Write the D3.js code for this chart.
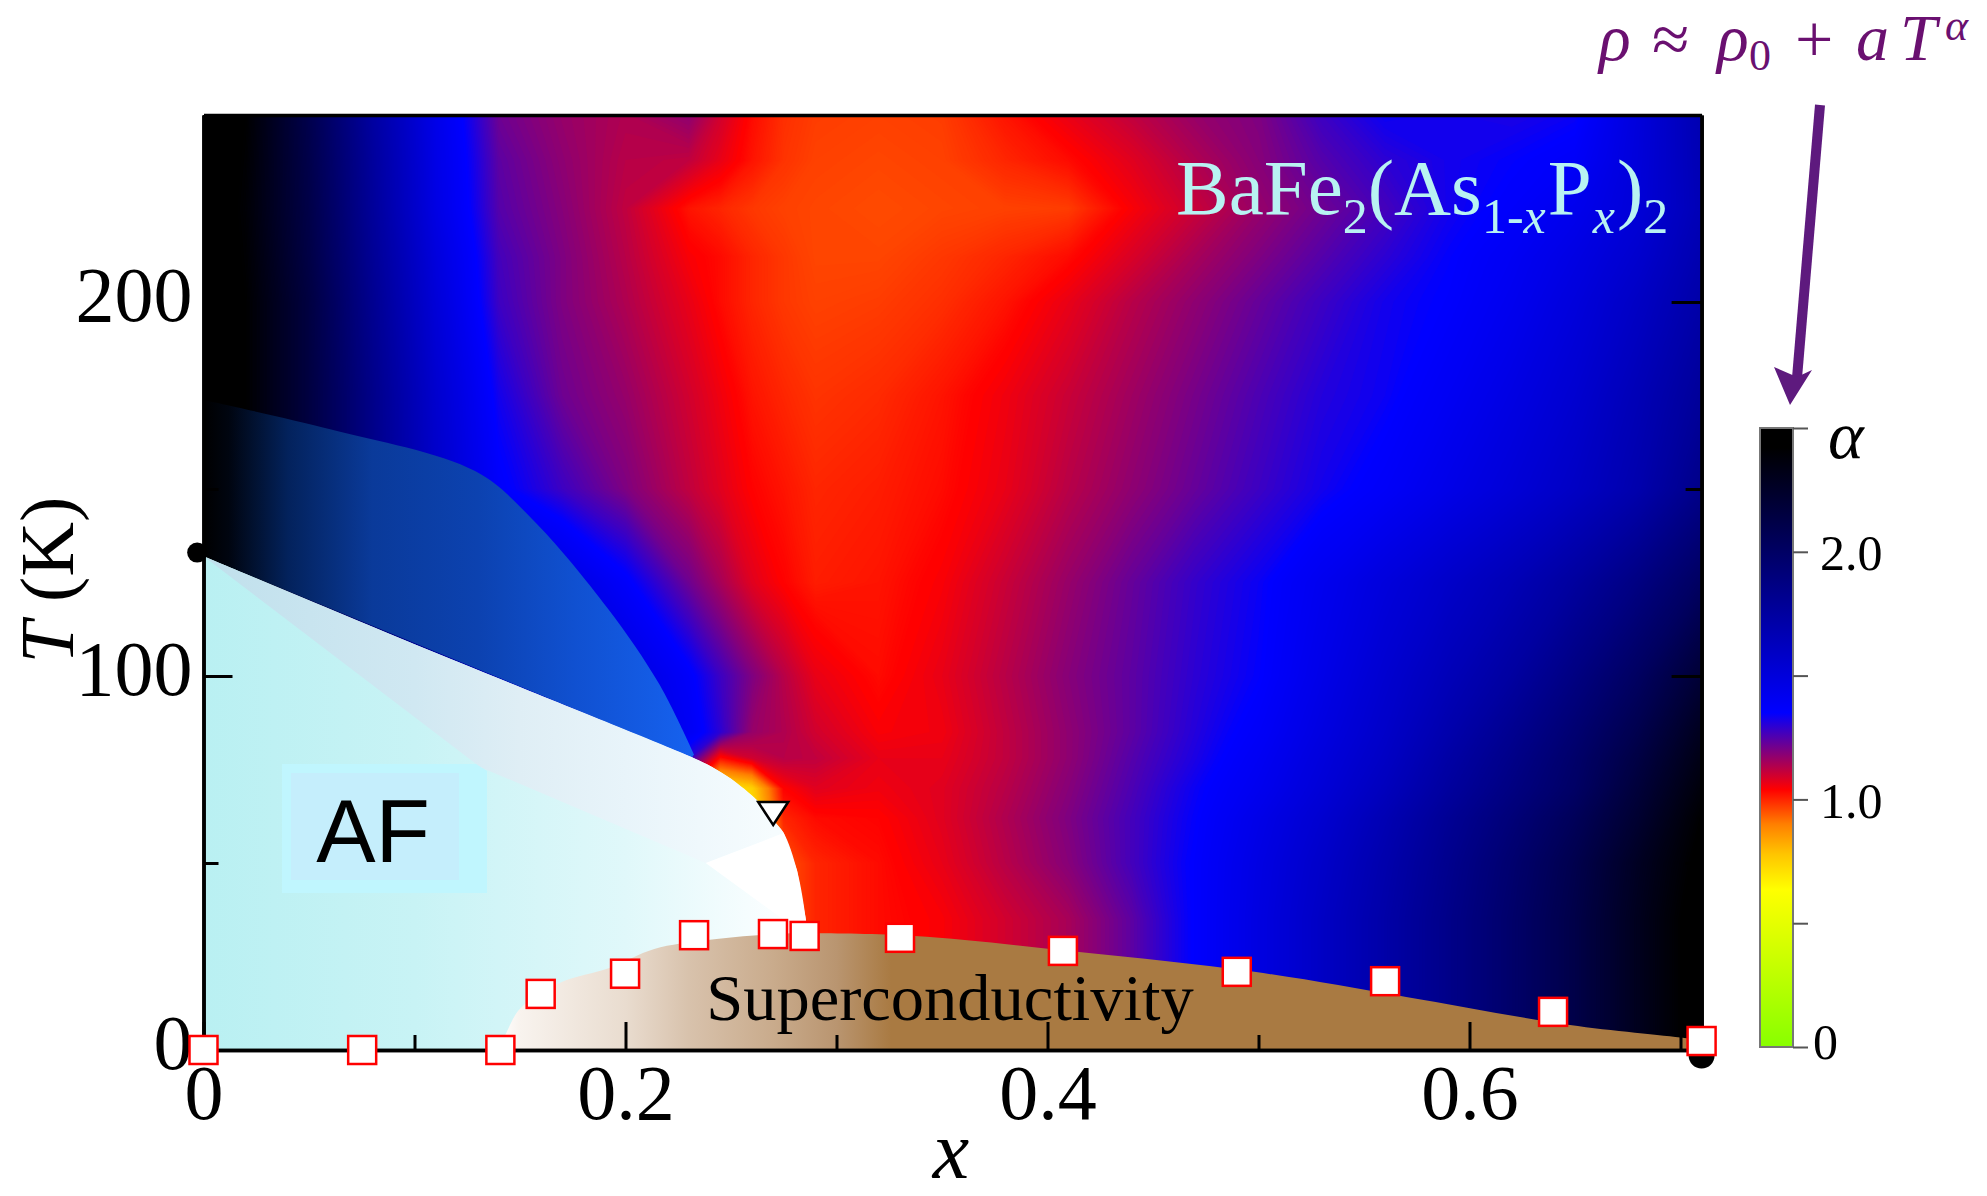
<!DOCTYPE html>
<html>
<head>
<meta charset="utf-8">
<script src="https://cdn.jsdelivr.net/npm/d3@7"></script>
<style>
	body { margin:0; background:#fff; }
	text { font-family:"Liberation Serif", serif; fill:#000; }
	.axis path { stroke:#000; stroke-width:3.5; fill:none; }
	.axis line { stroke:#000; stroke-width:3; }
	.axis text { font-size:78px; }
	.cbar text { font-size:50px; }
	.cbar line { stroke:#555; stroke-width:2; }
	.cbar path { display:none; }
</style>
</head>
<body>
<svg id="chart" width="1987" height="1196"></svg>
<script>

// alpha(x, T)
var gridX = [0,.02,.05,.08,.11,.14,.17,.2,.23,.245,.26,.275,.29,.32,.35,.38,.41,.44,.47,.5,.53,.56,.59,.62,.65,.68,.71];
var gridT = [250,238,225,212,200,175,150,125,100,85,78,70,62,50,35,20,0];
var alphaRows = [
	[2.5,2.42,2.1,1.75,1.45,1.22,1.17,1.14,1.18,1.1,1.03,.99,.975,.97,.975,1.02,1.07,1.12,1.17,1.2,1.28,1.34,1.33,1.32,1.34,1.5,1.68],
	[2.5,2.41,2.11,1.77,1.46,1.24,1.18,1.13,1.12,1.07,1.02,.985,.97,.965,.97,1,1.03,1.08,1.14,1.19,1.25,1.3,1.33,1.35,1.38,1.51,1.67],
	[2.5,2.4,2.12,1.78,1.47,1.25,1.19,1.12,1.02,1,.98,.97,.965,.96,.965,.97,.975,1.05,1.11,1.17,1.22,1.27,1.33,1.37,1.43,1.52,1.66],
	[2.5,2.41,2.13,1.8,1.5,1.27,1.2,1.13,1.05,1.03,1,.98,.965,.965,.98,1,1.03,1.09,1.15,1.2,1.25,1.3,1.35,1.4,1.47,1.56,1.69],
	[2.5,2.42,2.15,1.82,1.52,1.28,1.2,1.14,1.07,1.03,1,.98,.97,.975,.99,1.02,1.07,1.13,1.18,1.23,1.28,1.33,1.36,1.42,1.5,1.6,1.72],
	[2.5,2.42,2.15,1.85,1.56,1.33,1.22,1.17,1.1,1.06,1.02,1,.985,.995,1.02,1.06,1.11,1.16,1.21,1.26,1.31,1.34,1.4,1.47,1.55,1.66,1.78],
	[2.5,2.42,2.15,1.85,1.58,1.37,1.28,1.2,1.12,1.08,1.04,1.02,1,1.01,1.03,1.07,1.13,1.18,1.23,1.28,1.33,1.38,1.45,1.52,1.6,1.7,1.85],
	[2.5,2.4,2.1,1.9,1.75,1.62,1.5,1.37,1.22,1.15,1.08,1.04,1.01,1.02,1.05,1.11,1.17,1.23,1.29,1.34,1.42,1.5,1.58,1.66,1.76,1.88,2.02],
	[2.5,2.4,2.1,1.95,1.8,1.68,1.58,1.5,1.37,1.28,1.2,1.13,1.07,1.03,1.07,1.13,1.19,1.24,1.3,1.35,1.45,1.55,1.65,1.75,1.88,2.02,2.2],
	[2.5,2.4,2.1,1.95,1.8,1.7,1.6,1.52,1.4,1.3,1.17,1.14,1.1,1.05,1.06,1.12,1.18,1.24,1.31,1.38,1.48,1.58,1.7,1.82,1.95,2.1,2.3],
	[2.5,2.4,2.1,1.95,1.8,1.7,1.6,1.5,1.3,1.02,1.1,1.13,1.12,1.07,1.07,1.12,1.18,1.25,1.32,1.4,1.5,1.6,1.73,1.85,1.98,2.14,2.34],
	[2.5,2.4,2.1,1.95,1.8,1.7,1.5,1.2,1,.7,.75,1.04,1.08,1.06,1.08,1.13,1.19,1.26,1.34,1.42,1.52,1.63,1.76,1.88,2,2.18,2.38],
	[2.5,2.4,2.1,1.95,1.8,1.7,1.5,1.2,1,.7,.7,1,1.03,1.04,1.08,1.14,1.2,1.27,1.35,1.45,1.55,1.67,1.8,1.92,2.05,2.22,2.42],
	[2.5,2.4,2.1,1.95,1.8,1.7,1.5,1.2,1,.9,.9,.95,1,1.03,1.07,1.13,1.19,1.27,1.36,1.47,1.58,1.7,1.83,1.96,2.1,2.28,2.45],
	[2.5,2.4,2.1,1.95,1.8,1.7,1.5,1.2,1,.9,.9,.95,1,1.03,1.05,1.1,1.15,1.24,1.36,1.48,1.6,1.72,1.85,1.98,2.12,2.3,2.48],
	[2.5,2.4,2.1,1.95,1.8,1.7,1.5,1.2,1,.9,.9,.95,1,1.03,1.05,1.1,1.15,1.24,1.36,1.48,1.6,1.72,1.85,1.98,2.12,2.3,2.48],
	[2.5,2.4,2.1,1.95,1.8,1.7,1.5,1.2,1,.9,.9,.95,1,1.03,1.05,1.1,1.15,1.24,1.36,1.48,1.6,1.72,1.85,1.98,2.12,2.3,2.48]
];

// colour bar
var alphaStops  = [0,.636,.78,.9,1.04,1.35,2.42,2.5];
var alphaColors = ['#88ff00','#ffff00','#ffc400','#ff7f00','#ff0000','#0000ff','#000000','#000000'];
var alphaTicks  = [0,.5,1,1.5,2,2.5];
var alphaLabels = {0:'0', 1:'1.0', 2:'2.0'};

// phase boundaries [x, T]
var afLine = [[0,132],[.1,108.5],[.2315,78.3],[.241,75.7],[.25,72.5],[.2623,66.8],[.27,61.5],[.275,58],[.2813,48],[.2855,34.8],[.2866,28]];
var blueLine = [[0,173.8],[.06,166],[.1287,154.8],[.1557,142],[.1917,118],[.2159,97.9],[.2325,79]];
var domeLine = [[.138,0],[.142,3],[.15,11],[.169,18],[.1927,22],[.2136,27],[.239,29.4],[.271,31],[.283,31.2],[.337,30.5],[.415,26.2],[.498,20.9],[.57,14.2],[.6476,6.7],[.702,3.2],[.71,2.5]];
var wedgeLow = [[.238,50],[.131,75.7]];

// gradients across x
var blueStops  = [[0,'#000000'],[.012,'#000510'],[.04,'#03225c'],[.08,'#0a3a9a'],[.13,'#0c42b0'],[.175,'#1050d0'],[.233,'#1662f0']];
var afStops    = [[0,'#b9f0f2'],[.1,'#c8f3f5'],[.2,'#e0f8fa'],[.27,'#fafeff']];
var wedgeStops = [[0,'#c0e0ec'],[.1,'#d0e8f2'],[.15,'#dfeef5'],[.2,'#e8f4fa'],[.27,'#f6fcfe']];
var domeStops  = [[.14,'#ffffff'],[.15,'#f8f3ee'],[.2,'#e9dccf'],[.23,'#d8c2ac'],[.27,'#c9ab8c'],[.3,'#b99570'],[.326,'#a97a42'],[.71,'#a97a42']];

// markers
var tcX = [0,.0752,.1407,.1598,.1998,.2325,.2699,.2849,.3301,.4073,.4897,.56,.6396,.71];
var tcT = [0,0,0,15,20.4,30.7,31,30.5,30,26.5,20.9,18.4,10.2,2.4];
var dotX = [-.003,.71];
var dotT = [133,-1.5];
var triangleX = .27, triangleT = 66.3;

var xTicksMajor = [0,.2,.4,.6];
var xTicksMinor = [.1,.3,.5,.7];
var yTicksMajor = [0,100,200];
var yTicksMinor = [50,150];


var svg = d3.select('#chart');
var defs = svg.append('defs');

var x = d3.scaleLinear().domain([0,.71]).range([203.5,1701.6]);
var y = d3.scaleLinear().domain([0,250]).range([1050,115]);
var color = d3.scaleLinear().domain(alphaStops).range(alphaColors);

defs.append('clipPath').attr('id','plotClip')
	.append('rect')
	.attr('x',x(0)).attr('y',y(250))
	.attr('width',x(.71)-x(0)).attr('height',y(0)-y(250));

function addGradient(id, stops) {
	var g = defs.append('linearGradient')
		.attr('id',id)
		.attr('gradientUnits','userSpaceOnUse')
		.attr('x1',x(0)).attr('x2',x(.71))
		.attr('y1',0).attr('y2',0);
	g.selectAll('stop')
		.data(stops)
		.enter()
		.append('stop')
		.attr('offset',d=>d[0]/.71)
		.attr('stop-color',d=>d[1]);
}
addGradient('blueGrad',blueStops);
addGradient('afGrad',afStops);
addGradient('wedgeGrad',wedgeStops);
addGradient('domeGrad',domeStops);


// heat map, nested contours of the grid
var plot = svg.append('g').attr('clip-path','url(#plotClip)');

var gridXi = d3.scaleLinear().domain(gridX.map((d,i)=>i+.5)).range(gridX).clamp(true);
var gridTi = d3.scaleLinear().domain(gridT.map((d,i)=>i+.5)).range(gridT).clamp(true);
var gridPath = d3.geoPath(d3.geoTransform({
	point: function(i,j){ this.stream.point(x(gridXi(i)), y(gridTi(j))); }
}));

// orange changes fast with alpha, so finer levels there
var levels = d3.range(.6,1.04,.002).concat(d3.range(1.04,2.52,.006));

var contours = d3.contours()
	.size([gridX.length,gridT.length])
	.thresholds(levels)
	(alphaRows.flat());

plot.append('rect')
	.attr('x',x(0)).attr('y',y(250))
	.attr('width',x(.71)-x(0)).attr('height',y(0)-y(250))
	.attr('fill',color(.6));

plot.selectAll('path.level')
	.data(contours)
	.enter()
	.append('path')
	.attr('class','level')
	.attr('d',gridPath)
	.attr('fill',d=>color(d.value));


// phase regions
var bx = d=>x(d[0]), by = d=>y(d[1]);
var smooth = d3.line().x(bx).y(by).curve(d3.curveCatmullRom.alpha(.5));

// blue region between the two curves
plot.append('path')
	.attr('d',smooth(blueLine)+'L'+x(afLine[2][0])+','+y(afLine[2][1])+'L'+x(0)+','+y(132)+'Z')
	.attr('fill','url(#blueGrad)');

plot.append('path')
	.attr('d',smooth(afLine)+'L'+x(.2866)+','+y(0)+'L'+x(0)+','+y(0)+'Z')
	.attr('fill','url(#afGrad)');

var lightPart = afLine.slice(0,8).concat(wedgeLow);
plot.append('path')
	.attr('d',d3.line().x(bx).y(by)(lightPart)+'Z')
	.attr('fill','url(#wedgeGrad)');

var whitePart = [wedgeLow[0]].concat(afLine.slice(7,10)).concat([[.2866,30]]);
plot.append('path')
	.attr('d',d3.line().x(bx).y(by)(whitePart)+'Z')
	.attr('fill','#fff');

// superconducting dome
plot.append('path')
	.attr('d',smooth(domeLine)+'L'+x(.71)+','+y(0)+'L'+x(.138)+','+y(0)+'Z')
	.attr('fill','url(#domeGrad)');

// AF label boxes
plot.append('path')
	.attr('d','M282,764H476L487,771V893H282Z')
	.attr('fill','#c0f6fe');
plot.append('rect')
	.attr('x',291).attr('y',773).attr('width',168).attr('height',107)
	.attr('fill','#c5eefc');


// axes
var xAxis = svg.append('g').attr('class','axis')
	.attr('transform','translate(0,'+y(0)+')')
	.call(d3.axisBottom(x).tickValues(xTicksMajor).tickSizeInner(-28).tickSizeOuter(0).tickFormat(d=>d===0?'0':d3.format('.1f')(d)));
svg.append('g').attr('class','axis')
	.attr('transform','translate(0,'+y(0)+')')
	.call(d3.axisBottom(x).tickValues(xTicksMinor).tickSizeInner(-15).tickSizeOuter(0).tickFormat(''));
svg.append('g').attr('class','axis')
	.attr('transform','translate(0,'+y(250)+')')
	.call(d3.axisTop(x).tickValues([]).tickSizeOuter(0));

var yAxis = svg.append('g').attr('class','axis')
	.attr('transform','translate('+x(0)+',0)')
	.call(d3.axisLeft(y).tickValues(yTicksMajor).tickSizeInner(-29).tickSizeOuter(0).tickPadding(11));
svg.append('g').attr('class','axis')
	.attr('transform','translate('+x(0)+',0)')
	.call(d3.axisLeft(y).tickValues(yTicksMinor).tickSizeInner(-15).tickSizeOuter(0).tickFormat(''));
svg.append('g').attr('class','axis')
	.attr('transform','translate('+x(.71)+',0)')
	.call(d3.axisRight(y).tickValues(yTicksMajor).tickSizeInner(-30).tickSizeOuter(0).tickFormat(''));
svg.append('g').attr('class','axis')
	.attr('transform','translate('+x(.71)+',0)')
	.call(d3.axisRight(y).tickValues(yTicksMinor).tickSizeInner(-16).tickSizeOuter(0).tickFormat(''));

xAxis.selectAll('text').attr('y',69).attr('dy',0);
yAxis.selectAll('text').attr('dy','0.24em');


// markers
svg.selectAll('circle.dot')
	.data(dotX)
	.enter()
	.append('circle')
	.attr('class','dot')
	.attr('cx',d=>x(d))
	.attr('cy',(d,i)=>y(dotT[i]))
	.attr('r',(d,i)=>i===0?10:13)
	.attr('fill','#000');

svg.append('path')
	.attr('d',d3.line()([[x(triangleX)-15,y(triangleT)],[x(triangleX)+15,y(triangleT)],[x(triangleX),y(triangleT)+23]])+'Z')
	.attr('fill','#fff')
	.attr('stroke','#000')
	.attr('stroke-width',2.5);

svg.selectAll('rect.tc')
	.data(tcX)
	.enter()
	.append('rect')
	.attr('class','tc')
	.attr('x',d=>x(d)-14)
	.attr('y',(d,i)=>y(tcT[i])-14)
	.attr('width',28)
	.attr('height',28)
	.attr('fill','#fff')
	.attr('stroke','#f00')
	.attr('stroke-width',2.5);


// labels
svg.append('text')
	.attr('x',951).attr('y',1178)
	.attr('text-anchor','middle')
	.style('font-size','82px').style('font-style','italic')
	.text('x');

var yLabel = svg.append('text')
	.attr('transform','translate(73,580) rotate(-90)')
	.attr('text-anchor','middle')
	.style('font-size','76px');
yLabel.append('tspan').style('font-style','italic').text('T');
yLabel.append('tspan').text(' (K)');

svg.append('text')
	.attr('x',373).attr('y',862)
	.style('font-family','"Liberation Sans", sans-serif')
	.style('font-size','89px')
	.attr('text-anchor','middle')
	.text('AF');

svg.append('text')
	.attr('x',950).attr('y',1020)
	.attr('text-anchor','middle')
	.style('font-size','66.5px')
	.text('Superconductivity');

var formula = svg.append('text')
	.attr('x',1176).attr('y',214)
	.style('font-size','79px')
	.style('fill','#b8f2f2');
var formulaParts = [
	['BaFe',0,0,0], ['2',19,0,0], ['(As',-19,0,0], ['1-',19,0,0], ['x',0,1,0], ['P',-19,0,2], ['x',19,1,1], [')',-19,0,2], ['2',19,0,0]
];
formula.selectAll('tspan')
	.data(formulaParts)
	.enter()
	.append('tspan')
	.attr('dy',d=>d[1])
	.attr('dx',d=>d[3])
	.style('font-size',d=>(d[1]>0 || d[0]==='1-' || d[2]) ? '50px' : null)
	.style('font-style',d=>d[2]?'italic':null)
	.style('fill','#b8f2f2')
	.text(d=>d[0]);

// resistivity law, each piece placed on its own
var lawParts = ['ρ','≈','ρ','0','+','a','T','α'];
var lawX     = [1599,1652,1717,1749,1795,1856,1900,1945];
var lawY     = [60,62,60,70,62,60,60,40];
var lawSize  = [66,68,66,44,68,66,66,44];
var lawItalic = [1,0,1,0,0,1,1,1];
svg.selectAll('text.law')
	.data(lawParts)
	.enter()
	.append('text')
	.attr('class','law')
	.attr('x',(d,i)=>lawX[i])
	.attr('y',(d,i)=>lawY[i])
	.style('font-size',(d,i)=>lawSize[i]+'px')
	.style('font-style',(d,i)=>lawItalic[i]?'italic':null)
	.style('fill','#6a1070')
	.text(d=>d);

svg.append('line')
	.attr('x1',1820).attr('y1',105).attr('x2',1797).attr('y2',378)
	.attr('stroke','#5e1a7e').attr('stroke-width',10);
svg.append('path')
	.attr('d','M1790,405L1774,367L1797,377L1812,370Z')
	.attr('fill','#5e1a7e');


// colour bar
var cY = d3.scaleLinear().domain([0,2.5]).range([1047,428]);

var cGrad = defs.append('linearGradient')
	.attr('id','cbarGrad')
	.attr('x1',0).attr('x2',0).attr('y1',1).attr('y2',0);
cGrad.selectAll('stop')
	.data(alphaStops)
	.enter()
	.append('stop')
	.attr('offset',d=>d/2.5)
	.attr('stop-color',d=>color(d));

svg.append('rect')
	.attr('x',1760).attr('y',cY(2.5))
	.attr('width',33).attr('height',cY(0)-cY(2.5))
	.attr('fill','url(#cbarGrad)')
	.attr('stroke','#777').attr('stroke-width',2);

var cbar = svg.append('g').attr('class','cbar')
	.attr('transform','translate(1793,0)')
	.call(d3.axisRight(cY).tickValues(alphaTicks).tickSize(15).tickPadding(12).tickFormat(d=>alphaLabels[d]||''));
cbar.selectAll('text').attr('dy','0.36em');
cbar.selectAll('.tick').filter(d=>d===0).select('text').attr('dx',-7).attr('dy','0.22em');

svg.append('text')
	.attr('x',1828).attr('y',458)
	.style('font-size','68px').style('font-style','italic')
	.text('α');

</script>
</body>
</html>
